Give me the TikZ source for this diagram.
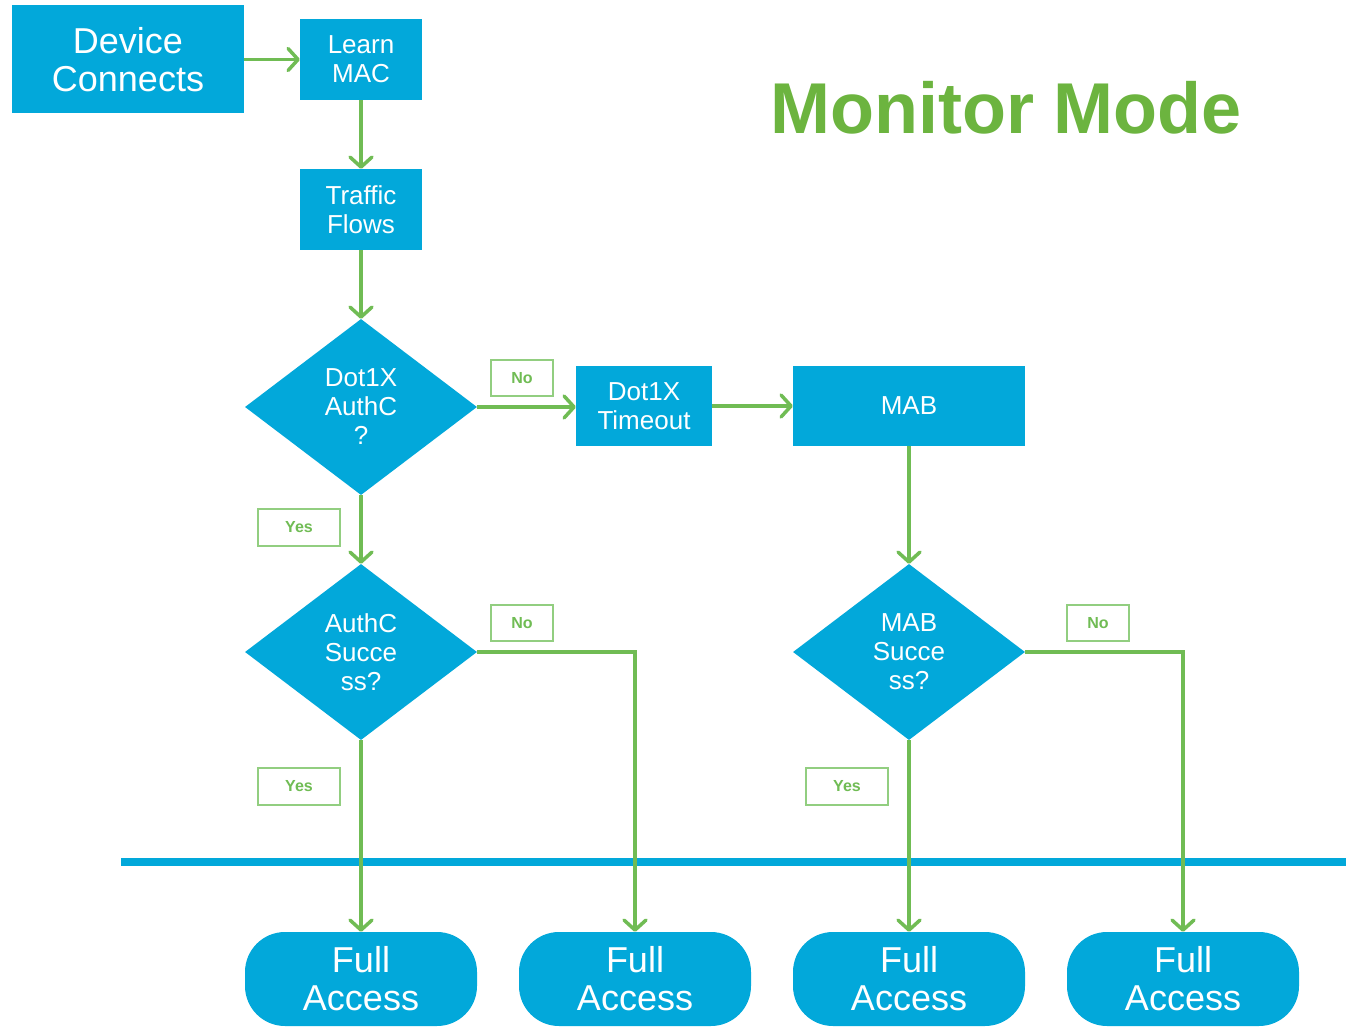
\documentclass[tikz,border=0pt]{standalone}
\usepackage{fontspec}
\setmainfont{Liberation Sans}
\usetikzlibrary{shapes.geometric,arrows.meta}

\definecolor{ciscoblue}{RGB}{2,168,218}
\definecolor{flowgreen}{RGB}{112,188,84}
\definecolor{titlegreen}{RGB}{108,180,63}
\definecolor{tagline}{RGB}{146,206,128}

\begin{document}
\begin{tikzpicture}[x=1pt,y=-1pt,
  box/.style={fill=ciscoblue, text=white, inner sep=0pt, align=center},
  proc/.style={box, minimum width=122pt, minimum height=81pt,
    font=\fontsize{26}{29}\selectfont},
  decision/.style={box, diamond, minimum width=232pt, minimum height=176pt,
    font=\fontsize{26}{29}\selectfont},
  terminal/.style={box, rounded corners=40pt, minimum width=232pt,
    minimum height=94pt, font=\fontsize{36}{38}\selectfont},
  tag/.style={draw=tagline, line width=1.5pt, fill=white, text=flowgreen,
    inner sep=0pt, font=\bfseries\fontsize{16}{16}\selectfont},
  flow/.style={draw=flowgreen, line width=3.5pt,
    -{Straight Barb[length=10pt,width=22pt,round]}}]

% canvas
\fill[white] (0,0) rectangle (1346,1027);
\useasboundingbox (0,0) rectangle (1346,1027);

% title
\node[text=titlegreen, font=\bfseries\fontsize{72}{72}\selectfont] (title) at (1006,108) {Monitor Mode};

% process boxes
\node[box, minimum width=232pt, minimum height=108pt,
  font=\fontsize{36}{38}\selectfont] (dev) at (128,59.5) {Device\\Connects};
\node[proc] (learn) at (361,59.5) {Learn\\MAC};
\node[proc] (traffic) at (361,209.5) {Traffic\\Flows};
\node[proc, minimum width=136pt, minimum height=80pt] (tmo) at (644,406) {Dot1X\\Timeout};
\node[proc, minimum width=232pt, minimum height=80pt] (mab) at (909,406) {MAB};

% decisions
\node[decision] (q1) at (361,407) {Dot1X\\AuthC\\?};
\node[decision] (q2) at (361,652) {AuthC\\Succe\\ss?};
\node[decision] (q3) at (909,652) {MAB\\Succe\\ss?};

% outcomes
\node[terminal] (fa1) at (361,979) {Full\\Access};
\node[terminal] (fa2) at (635,979) {Full\\Access};
\node[terminal] (fa3) at (909,979) {Full\\Access};
\node[terminal] (fa4) at (1183,979) {Full\\Access};

% separator bar
\coordinate (barL) at (121,862);
\coordinate (barR) at (1346,862);
\draw[ciscoblue, line width=8pt] (barL) -- (barR);

% answer tags
\node[tag, minimum width=62pt, minimum height=36pt] (no1) at (522,378) {No};
\node[tag, minimum width=82pt, minimum height=37pt] (yes1) at (299,527.5) {Yes};
\node[tag, minimum width=62pt, minimum height=36pt] (no2) at (522,623) {No};
\node[tag, minimum width=82pt, minimum height=37pt] (yes2) at (299,786.5) {Yes};
\node[tag, minimum width=62pt, minimum height=36pt] (no3) at (1098,623) {No};
\node[tag, minimum width=82pt, minimum height=37pt] (yes3) at (847,786.5) {Yes};

% connectors
\draw[flow] (dev) -- (learn);
\draw[flow] (learn) -- (traffic);
\draw[flow] (traffic) -- (q1.north);
\draw[flow] (q1.east) -- (tmo.west |- q1.east);
\draw[flow] (tmo) -- (mab);
\draw[flow] (q1.south) -- (q2.north);
\draw[flow] (mab) -- (q3.north);
\draw[flow] (q2.south) -- (fa1.north);
\draw[flow] (q2.east) -| (fa2.north);
\draw[flow] (q3.south) -- (fa3.north);
\draw[flow] (q3.east) -| (fa4.north);
\end{tikzpicture}
\end{document}
